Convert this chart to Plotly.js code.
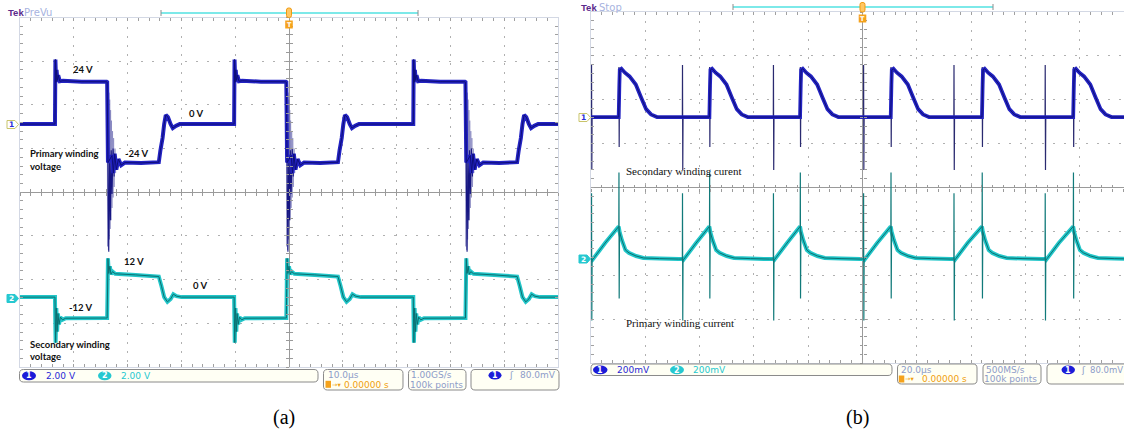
<!DOCTYPE html>
<html>
<head>
<meta charset="utf-8">
<script src="https://cdn.plot.ly/plotly-3.0.1.min.js"></script>
<style>
html,body{margin:0;padding:0;background:#ffffff;}
#chart{width:1124px;height:432px;}
</style>
</head>
<body>
<div id="chart"></div>
<script>
// ================= values =================
// ---- (a) 10 µs/div, window -50 … 50 µs ----
const aRiseTimes = [-43.5, -10.2, 23.1];              // µs, rising edges of the primary voltage
// one cycle of the primary winding voltage (V), time relative to its rising edge (µs)
const aPrimDt = [-0.15, 0, 0.08, 0.2, 0.3, 0.45, 0.6, 0.9, 1.5, 5, 9.6, 9.7, 9.85, 10.6, 10.85, 11.1, 11.4, 11.8, 12.3, 13.0, 16, 19.3, 19.6, 20.0, 20.3, 20.6, 21.0, 21.5, 21.9, 22.5, 23.2];
const aPrimV  = [0, 0, 37, 24, 31, 25, 28, 24.5, 24.8, 24.3, 24.2, 24, -22, -18, -28, -17, -26, -20, -23.5, -22, -22.2, -21.8, -15, -8, 0, 5.2, 4, 0, -2.3, -1, 0];
// sharp spike at the primary falling edge (thin trace)
const aSpikeDt = [9.75, 9.9, 10.0, 10.15, 10.3, 10.45, 10.6, 10.8, 11.0];
const aSpikeV  = [20, -45, -73, -20, -55, -15, -40, -14, -30];
// faint ringing burst at the primary falling edge
const aRingDt = [9.7, 9.78, 9.86, 9.94, 10.02, 10.1, 10.18, 10.26, 10.34, 10.42, 10.5, 10.6, 10.7, 10.8, 10.9, 11.0, 11.15, 11.3];
const aRingV  = [24, -70, 22, -72, 18, -66, 14, -60, 8, -55, 2, -48, -4, -42, -8, -36, -14, -28];
// one cycle of the secondary winding voltage (V)
const aSecDt = [-0.15, 0, 0.05, 0.12, 0.25, 0.4, 0.55, 0.75, 1.0, 1.4, 2.0, 9.6, 9.7, 9.78, 9.85, 10.0, 10.2, 10.4, 10.7, 11.2, 15, 19.3, 19.8, 20.3, 20.9, 21.5, 22.0, 22.6, 23.5];
const aSecV  = [0, 0, -12, -25, -6, -19, -9, -15, -11, -12.5, -11.6, -11.5, -11.5, 5, 21.3, 13, 17, 12.5, 14, 12.8, 12.2, 11.3, 6, 0, -2.6, -1, 1.6, 0.5, 0];

// ---- (b) 20 µs/div ----
const bOnTimes  = [-99.8, -66.3, -32.8, 0.4, 33.7, 67.3];   // µs, switch-on spikes
const bOffTimes = [-89.7, -56.3, -22.9, 10.5, 44.1, 77.7];  // µs, switch-off edges
// secondary winding current (mV on the probe): body of the pulse after switch-off
const bSecOffDt = [-0.1, 0.15, 0.3, 0.9, 2.2, 3.9, 6.2, 8.2, 10.0, 11.8, 14.0];
const bSecOffMv = [0, 150, 215, 220, 202, 185, 148, 88, 36, 12, 0];
// secondary current spikes
const bSecOnSpDt  = [-0.05, 0, 0.1, 0.2];
const bSecOnSpMv  = [0, 237, -241, 0];
const bSecOffSpDt = [-0.05, 0, 0.08, 0.2];
const bSecOffSpMv = [0, 228, -137, 160];
// primary winding current (mV on the probe)
const bPriOnDt  = [-0.1, 0.3, 5.0];
const bPriOnMv  = [-5, -9, 68];
const bPriOffDt = [-0.1, 0.2, 1.05, 2.4, 3.7, 6.3, 9.0, 15.0, 22.0];
const bPriOffMv = [143, 120, 82, 36, 23, 9, 0, -3, -5];
// primary current spikes
const bPriOnSpDt  = [-0.05, 0, 0.1, 0.2];
const bPriOnSpMv  = [-5, 295, -285, -5];
const bPriOffSpDt = [-0.05, 0, 0.08, 0.2];
const bPriOffSpMv = [143, 390, -185, 120];

// channel settings (offset in divisions, units per division)
const aCh1 = {off: 1.56, per: 25}, aCh2 = {off: -2.40, per: 24};
const bCh1 = {off: 1.606, per: 200}, bCh2 = {off: -1.606, per: 200};

// ================= geometry =================
const W = 1124, H = 432;
const GA = {l: 20, r: 558, t: 17.5, b: 367, cx: 289, cy: 192.25};
const GB = {l: 591, r: 1124, t: 12, b: 363, cx: 862.5, cy: 187.5};
const bDivPx = (GB.cx - GB.l) / 5;
const bXmax = (GB.r - GB.cx) / bDivPx * 20;
const X = px => px / W, Y = py => 1 - py / H;

function build(events, x0, x1, base) {
  events.sort((p, q) => p[0] - q[0]);
  const xs = [x0], ys = [base];
  events.forEach(([t, dt, v]) => dt.forEach((d, i) => { xs.push(t + d); ys.push(v[i]); }));
  if (xs[xs.length - 1] < x1) { xs.push(x1); ys.push(base); }
  return {xs, ys};
}
function segs(list) {
  const xs = [], ys = [];
  list.forEach(([t, dt, v]) => { dt.forEach((d, i) => { xs.push(t + d); ys.push(v[i]); }); xs.push(null); ys.push(null); });
  return {xs, ys};
}
const toDiv = (ys, ch) => ys.map(v => v === null ? null : ch.off + v / ch.per);

const aP = build(aRiseTimes.map(t => [t, aPrimDt, aPrimV]), -50, 50, 0);
const aK = segs(aRiseTimes.map(t => [t, aSpikeDt, aSpikeV]));
const aR = segs(aRiseTimes.map(t => [t, aRingDt, aRingV]));
const aS = build(aRiseTimes.map(t => [t, aSecDt, aSecV]), -50, 50, 0);
const bS = build(bOffTimes.map(t => [t, bSecOffDt, bSecOffMv]), -100, bXmax, 0);
const bSK = segs(bOnTimes.map(t => [t, bSecOnSpDt, bSecOnSpMv]).concat(bOffTimes.map(t => [t, bSecOffSpDt, bSecOffSpMv])));
const bP = build(bOnTimes.map(t => [t, bPriOnDt, bPriOnMv]).concat(bOffTimes.map(t => [t, bPriOffDt, bPriOffMv])), -100, bXmax, -5);
const bPK = segs(bOnTimes.map(t => [t, bPriOnSpDt, bPriOnSpMv]).concat(bOffTimes.map(t => [t, bPriOffSpDt, bPriOffSpMv])));

const BLUE = '#2323c2', BLUE_CORE = '#0e0e78', CYAN = '#22c6c9', CYAN_CORE = '#0b6f70';
function line(x, y, xa, ya, color, width) {
  return {type: 'scatter', mode: 'lines', x, y, xaxis: xa, yaxis: ya, connectgaps: false, line: {color, width, simplify: false}, hoverinfo: 'skip', showlegend: false};
}
const traces = [
  line(aS.xs, toDiv(aS.ys, aCh2), 'x', 'y', CYAN, 4),
  line(aS.xs, toDiv(aS.ys, aCh2), 'x', 'y', CYAN_CORE, 1),
  line(aR.xs, toDiv(aR.ys, aCh1), 'x', 'y', 'rgba(110,110,178,0.55)', 1),
  line(aK.xs, toDiv(aK.ys, aCh1), 'x', 'y', '#161682', 1.1),
  line(aP.xs, toDiv(aP.ys, aCh1), 'x', 'y', BLUE, 4),
  line(aP.xs, toDiv(aP.ys, aCh1), 'x', 'y', BLUE_CORE, 1),
  line(bP.xs, toDiv(bP.ys, bCh2), 'x2', 'y2', CYAN, 4),
  line(bP.xs, toDiv(bP.ys, bCh2), 'x2', 'y2', CYAN_CORE, 1),
  line(bPK.xs, toDiv(bPK.ys, bCh2), 'x2', 'y2', '#117a7a', 1.2),
  line(bSK.xs, toDiv(bSK.ys, bCh1), 'x2', 'y2', '#2a2a70', 1.2),
  line(bS.xs, toDiv(bS.ys, bCh1), 'x2', 'y2', BLUE, 3.8),
  line(bS.xs, toDiv(bS.ys, bCh1), 'x2', 'y2', BLUE_CORE, 1)
];
// empty traces that carry the centre tick axes
[['x3','y'],['x4','y'],['x','y3'],['x','y4'],['x5','y2'],['x6','y2'],['x2','y5'],['x2','y6']].forEach(([xa, ya]) =>
  traces.push({type: 'scatter', mode: 'lines', x: [], y: [], xaxis: xa, yaxis: ya, hoverinfo: 'skip', showlegend: false}));

// ================= axes =================
const TICKC = '#a0a0a0', GRIDC = '#b0b0b0';
const DASH_V = '2px,7px', DASH_H = '2px,9px';   // dotted scope graticule
function gridAxis(o) {
  return Object.assign({
    showgrid: true, gridcolor: GRIDC, gridwidth: 1,
    zeroline: true, zerolinecolor: '#9a9a9a', zerolinewidth: 1,
    showline: true, linecolor: '#d3d8e4', linewidth: 1, mirror: 'ticks',
    ticks: 'inside', ticklen: 3, tickwidth: 1, tickcolor: TICKC,
    showticklabels: false, fixedrange: true
  }, o);
}
function tickAxis(o, dir) {
  return Object.assign({
    anchor: 'free', showgrid: false, zeroline: false, showline: false, showticklabels: false,
    ticks: dir, ticklen: 3, tickwidth: 1, tickcolor: '#9a9a9a', fixedrange: true
  }, o);
}
const aDomX = [X(GA.l), X(GA.r)], aDomY = [Y(GA.b), Y(GA.t)];
const bDomX = [X(GB.l), 1], bDomY = [Y(GB.b), Y(GB.t)];
const minX = d => ({dtick: d, ticks: 'inside', ticklen: 3, tickwidth: 1, tickcolor: TICKC, showgrid: false});

const layout = {
  width: W, height: H, margin: {l: 0, r: 0, t: 0, b: 0},
  paper_bgcolor: '#ffffff', plot_bgcolor: '#ffffff', hovermode: false, showlegend: false,
  xaxis: gridAxis({domain: aDomX, range: [-50, 50], dtick: 10, tick0: -50, griddash: DASH_V, anchor: 'y', minor: minX(2)}),
  yaxis: gridAxis({domain: aDomY, range: [-4, 4], dtick: 1, tick0: -4, griddash: DASH_H, anchor: 'x', minor: minX(0.2)}),
  xaxis2: gridAxis({domain: bDomX, range: [-100, bXmax], dtick: 20, tick0: -100, griddash: DASH_V, anchor: 'y2', minor: minX(4)}),
  yaxis2: gridAxis({domain: bDomY, range: [-4, 4], dtick: 1, tick0: -4, griddash: DASH_H, anchor: 'x2', mirror: false, minor: minX(0.2)}),
  xaxis3: tickAxis({overlaying: 'x', domain: aDomX, position: Y(GA.cy), range: [-50, 50], dtick: 10, tick0: 0, minor: {dtick: 2, ticks: 'inside', ticklen: 3, tickcolor: '#9a9a9a'}}, 'inside'),
  xaxis4: tickAxis({overlaying: 'x', domain: aDomX, position: Y(GA.cy), range: [-50, 50], dtick: 10, tick0: 0, minor: {dtick: 2, ticks: 'outside', ticklen: 3, tickcolor: '#9a9a9a'}}, 'outside'),
  yaxis3: tickAxis({overlaying: 'y', domain: aDomY, position: X(GA.cx), side: 'left', range: [-4, 4], dtick: 1, tick0: 0, minor: {dtick: 0.2, ticks: 'inside', ticklen: 3, tickcolor: '#9a9a9a'}}, 'inside'),
  yaxis4: tickAxis({overlaying: 'y', domain: aDomY, position: X(GA.cx), side: 'left', range: [-4, 4], dtick: 1, tick0: 0, minor: {dtick: 0.2, ticks: 'outside', ticklen: 3, tickcolor: '#9a9a9a'}}, 'outside'),
  xaxis5: tickAxis({overlaying: 'x2', domain: bDomX, position: Y(GB.cy), range: [-100, bXmax], dtick: 20, tick0: 0, minor: {dtick: 4, ticks: 'inside', ticklen: 3, tickcolor: '#9a9a9a'}}, 'inside'),
  xaxis6: tickAxis({overlaying: 'x2', domain: bDomX, position: Y(GB.cy), range: [-100, bXmax], dtick: 20, tick0: 0, minor: {dtick: 4, ticks: 'outside', ticklen: 3, tickcolor: '#9a9a9a'}}, 'outside'),
  yaxis5: tickAxis({overlaying: 'y2', domain: bDomY, position: X(GB.cx), side: 'left', range: [-4, 4], dtick: 1, tick0: 0, minor: {dtick: 0.2, ticks: 'inside', ticklen: 3, tickcolor: '#9a9a9a'}}, 'inside'),
  yaxis6: tickAxis({overlaying: 'y2', domain: bDomY, position: X(GB.cx), side: 'left', range: [-4, 4], dtick: 1, tick0: 0, minor: {dtick: 0.2, ticks: 'outside', ticklen: 3, tickcolor: '#9a9a9a'}}, 'outside'),
  shapes: [], annotations: []
};

// ================= scope chrome =================
const P = (x, y) => X(x).toFixed(5) + ',' + Y(y).toFixed(5);
const S = layout.shapes, A = layout.annotations;
function rrect(x0, y0, x1, y1, r, fill, lc) {
  S.push({type: 'path', xref: 'paper', yref: 'paper', fillcolor: fill, line: {color: lc, width: 1},
    path: 'M' + P(x0 + r, y0) + ' L' + P(x1 - r, y0) + ' Q' + P(x1, y0) + ' ' + P(x1, y0 + r) +
      ' L' + P(x1, y1 - r) + ' Q' + P(x1, y1) + ' ' + P(x1 - r, y1) + ' L' + P(x0 + r, y1) +
      ' Q' + P(x0, y1) + ' ' + P(x0, y1 - r) + ' L' + P(x0, y0 + r) + ' Q' + P(x0, y0) + ' ' + P(x0 + r, y0) + ' Z'});
}
function seg(x0, y0, x1, y1, c, w) { S.push({type: 'line', xref: 'paper', yref: 'paper', x0: X(x0), y0: Y(y0), x1: X(x1), y1: Y(y1), line: {color: c, width: w}}); }
function box(x0, y0, x1, y1, fill) { S.push({type: 'rect', xref: 'paper', yref: 'paper', x0: X(x0), y0: Y(y0), x1: X(x1), y1: Y(y1), fillcolor: fill, line: {width: 0}}); }
function oval(x0, y0, x1, y1, fill) { S.push({type: 'circle', xref: 'paper', yref: 'paper', x0: X(x0), y0: Y(y0), x1: X(x1), y1: Y(y1), fillcolor: fill, line: {width: 0}}); }
function txt(x, y, text, o) {
  o = o || {};
  A.push({xref: 'paper', yref: 'paper', x: X(x), y: Y(y), text, showarrow: false, xanchor: o.anchor || 'left', yanchor: 'middle',
    borderpad: 0, borderwidth: 0, font: {family: o.family || 'DejaVu Sans', size: o.size || 9, color: o.color || '#000000', weight: o.weight || 'normal'}});
}
function chMarker(x, y, fill, lc, label, tc) {
  S.push({type: 'path', xref: 'paper', yref: 'paper', fillcolor: fill, line: {color: lc, width: 1},
    path: 'M' + P(x, y - 4) + ' L' + P(x + 8, y - 4) + ' L' + P(x + 11.5, y) + ' L' + P(x + 8, y + 4) + ' L' + P(x, y + 4) + ' Z'});
  txt(x + 4.2, y + 0.3, label, {anchor: 'center', size: 7.5, color: tc, weight: 'bold'});
}
function trigTop(cx, yBar, x0, x1, yMark, yT) {
  seg(x0, yBar, x1, yBar, '#52e2e2', 1.5);
  seg(x0, yBar - 3, x0, yBar + 3, '#8c8c8c', 1);
  seg(x1, yBar - 3, x1, yBar + 3, '#8c8c8c', 1);
  rrect(cx - 2.5, yMark, cx + 2.5, yMark + 9.5, 2, '#ffc764', '#f09a10');
  box(cx - 3.8, yT, cx + 3.8, yT + 8, '#f5a21c');
  txt(cx, yT + 4.2, 'T', {anchor: 'center', size: 6.5, color: '#ffffff', weight: 'bold'});
}
const GRAYTXT = '#8d9cc9', ORANGE = '#f0a010', CH1C = '#2a2ad6', CH2C = '#26c8d0';

// ---- (a) ----
txt(8, 12.5, '<b>Tek</b>', {size: 9.5, color: '#5b2a8c', family: 'Liberation Sans'});
txt(24, 12.5, 'PreVu', {size: 10, color: '#a7b3e0'});
trigTop(GA.cx, 13, 161, 418, 8, 20.5);
chMarker(7, 124.5, '#ffffff', '#c9c46a', '1', CH1C);
chMarker(7, 298.5, CH2C, CH2C, '2', '#ffffff');
rrect(19.5, 369.5, 318, 382, 4, '#fffff4', '#8a8a8a');
oval(22, 371.3, 36, 380.2, '#1c1cd8'); txt(29, 375.9, '1', {anchor: 'center', size: 8, color: '#ffffff', weight: 'bold'});
txt(46, 375.9, '2.00 V', {color: CH1C});
oval(98, 371.3, 111.5, 380.2, CH2C); txt(104.8, 375.9, '2', {anchor: 'center', size: 8, color: '#ffffff', weight: 'bold'});
txt(121, 375.9, '2.00 V', {color: CH2C});
rrect(323.5, 369.5, 403, 390, 4, '#fffff4', '#8a8a8a');
txt(328, 375, '10.0µs', {color: GRAYTXT});
box(325.5, 380.8, 331, 387.8, '#f5a21c');
txt(331.5, 384.6, '→▾', {size: 6.5, color: ORANGE});
txt(344, 384.6, '0.00000 s', {color: ORANGE});
rrect(408.5, 369.5, 466, 390, 4, '#fffff4', '#8a8a8a');
txt(411.5, 375, '1.00GS/s', {color: GRAYTXT});
txt(409.8, 384.6, '100k points', {color: GRAYTXT});
rrect(471, 369.5, 559, 390, 4, '#fffff4', '#8a8a8a');
oval(488.5, 371, 501.5, 379.5, '#1c1cd8'); txt(495, 375.4, '1', {anchor: 'center', size: 8, color: '#ffffff', weight: 'bold'});
txt(509, 375, 'ʃ', {color: GRAYTXT});
txt(520, 375, '80.0mV', {color: GRAYTXT});
txt(284, 417, '(a)', {anchor: 'center', size: 20, family: 'Liberation Serif'});

// labels (a)
const LB = {family: 'Lato, Liberation Sans', size: 9.5, weight: 'bold', color: '#111111'};
txt(82.5, 70, '24 V', Object.assign({anchor: 'center'}, LB));
txt(196, 113, '0 V', Object.assign({anchor: 'center'}, LB));
txt(137, 154, '-24 V', Object.assign({anchor: 'center'}, LB));
txt(30, 154, 'Primary winding', LB);
txt(30, 166.5, 'voltage', LB);
txt(134, 261, '12 V', Object.assign({anchor: 'center'}, LB));
txt(199.5, 285, '0 V', Object.assign({anchor: 'center'}, LB));
txt(80.5, 307, '-12 V', Object.assign({anchor: 'center'}, LB));
txt(30, 344, 'Secondary winding', LB);
txt(30, 356, 'voltage', LB);

// ---- (b) ----
txt(580.5, 7, '<b>Tek</b>', {size: 9.5, color: '#5b2a8c', family: 'Liberation Sans'});
txt(598.5, 7, 'Stop', {size: 10, color: '#a7b3e0'});
trigTop(GB.cx, 7, 733, 993, 2.5, 14.5);
chMarker(579, 117.5, '#ffffff', '#c9c46a', '1', CH1C);
chMarker(579, 259, CH2C, CH2C, '2', '#ffffff');
rrect(591, 364, 892, 375.5, 4, '#fffff4', '#8a8a8a');
oval(593, 365.5, 607.5, 374.2, '#1c1cd8'); txt(600.2, 370, '1', {anchor: 'center', size: 8, color: '#ffffff', weight: 'bold'});
txt(617, 370, '200mV', {color: CH1C});
oval(670, 365.5, 684, 374.2, CH2C); txt(677, 370, '2', {anchor: 'center', size: 8, color: '#ffffff', weight: 'bold'});
txt(692.5, 370, '200mV', {color: CH2C});
rrect(897.5, 364, 977, 384, 4, '#fffff4', '#8a8a8a');
txt(901, 369.5, '20.0µs', {color: GRAYTXT});
box(898.8, 375.5, 904.3, 382.5, '#f5a21c');
txt(905, 379.3, '→▾', {size: 6.5, color: ORANGE});
txt(922, 379.3, '0.00000 s', {color: ORANGE});
rrect(983, 364, 1041, 384, 4, '#fffff4', '#8a8a8a');
txt(986, 369.5, '500MS/s', {color: GRAYTXT});
txt(984, 379.3, '100k points', {color: GRAYTXT});
rrect(1047, 364, 1134, 384, 4, '#fffff4', '#8a8a8a');
oval(1061.5, 365.5, 1075, 374.2, '#1c1cd8'); txt(1068.2, 370, '1', {anchor: 'center', size: 8, color: '#ffffff', weight: 'bold'});
txt(1081, 369.5, 'ʃ', {color: GRAYTXT});
txt(1090, 369.5, '80.0mV', {color: GRAYTXT, size: 8.5});
txt(857, 417, '(b)', {anchor: 'center', size: 20, family: 'Liberation Serif'});

const LS = {family: 'Liberation Serif', size: 11, color: '#111111'};
txt(626, 171, 'Secondary winding curent', LS);
txt(626, 322.5, 'Primary winding current', LS);

Plotly.newPlot('chart', traces, layout, {displayModeBar: false, staticPlot: true});
</script>
</body>
</html>
